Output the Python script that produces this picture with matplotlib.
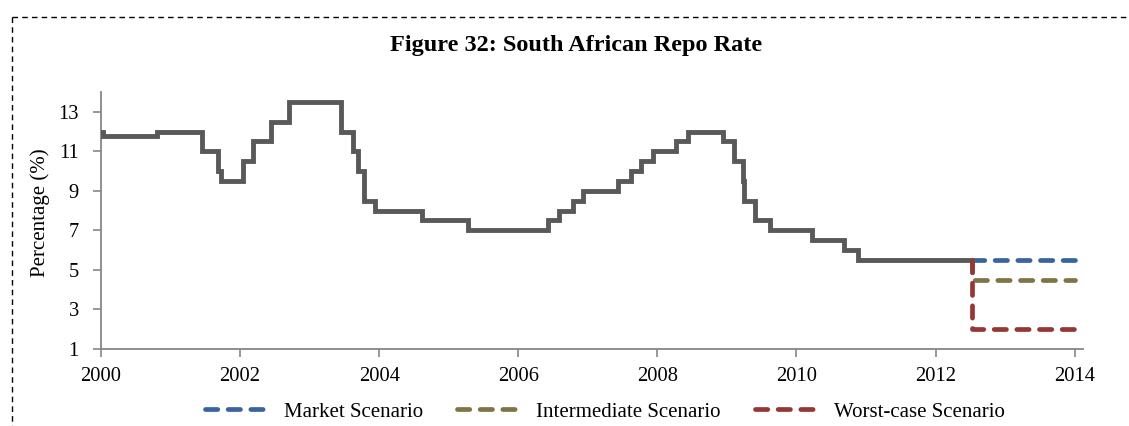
import matplotlib
matplotlib.use("Agg")
import matplotlib.pyplot as plt
from matplotlib.lines import Line2D

# ---- data ----
dates = [2000.0, 2000.03, 2000.80, 2001.45, 2001.68, 2001.72, 2002.04, 2002.19,
         2002.44, 2002.70, 2003.45, 2003.62, 2003.69, 2003.78, 2003.94, 2004.61,
         2005.28, 2006.43, 2006.58, 2006.78, 2006.93, 2007.43, 2007.62, 2007.77,
         2007.93, 2008.27, 2008.44, 2008.95, 2009.10, 2009.23, 2009.25, 2009.40,
         2009.62, 2010.23, 2010.69, 2010.88, 2012.53]
rates = [12.0, 11.75, 12.0, 11.0, 10.0, 9.5, 10.5, 11.5,
         12.5, 13.5, 12.0, 11.0, 10.0, 8.5, 8.0, 7.5,
         7.0, 7.5, 8.0, 8.5, 9.0, 9.5, 10.0, 10.5,
         11.0, 11.5, 12.0, 11.5, 10.5, 9.5, 8.5, 7.5,
         7.0, 6.5, 6.0, 5.5, 5.5]

scen_x = [2012.53, 2012.53, 2014.0]
market = [5.5, 5.5, 5.5]
intermediate = [5.5, 4.5, 4.5]
worst = [5.5, 2.0, 2.0]
scen_labels = ["Market Scenario", "Intermediate Scenario", "Worst-case Scenario"]
scen_colors = ["#3A64A0", "#7E7446", "#953735"]

x_ticks = [2000, 2002, 2004, 2006, 2008, 2010, 2012, 2014]
y_ticks = [1, 3, 5, 7, 9, 11, 13]

plt.rcParams['font.family'] = ['Liberation Serif', 'DejaVu Serif']

W, H = 1129, 426
fig = plt.figure(figsize=(W / 100, H / 100), dpi=100)
ax = fig.add_axes([101 / W, 1 - 349 / H, (1083 - 101) / W, (349 - 92) / H])

ax.plot(dates, rates, drawstyle='steps-post', color='#595959', lw=3.5,
        solid_joinstyle='miter', zorder=3)

dash = (2.6, 2.2)
for ys, lab, c in zip([market, intermediate, worst], scen_labels, scen_colors):
    ax.plot(scen_x, ys, color=c, lw=3.4, dashes=dash, dash_capstyle='round',
            label=lab, zorder=4)

ax.set_xlim(2000, 2014.12)
ax.set_ylim(1, 14)
ax.set_xticks(x_ticks)
ax.set_yticks(y_ticks)
ax.tick_params(axis='both', labelsize=14.8, color='#868686', length=6, width=1.2)
ax.tick_params(axis='x', pad=7)
ax.tick_params(axis='y', pad=10)
for s in ['top', 'right']:
    ax.spines[s].set_visible(False)
for s in ['left', 'bottom']:
    ax.spines[s].set_color('#868686')
    ax.spines[s].set_linewidth(1.3)

ax.set_ylabel("Percentage (%)", fontsize=15)
ax.yaxis.set_label_coords(40 / W, 0.5, transform=fig.transFigure)
ax.yaxis.label.set_va('center')

fig.text(576 / W, 1 - 45 / H, "Figure 32: South African Repo Rate",
         ha='center', va='center', fontsize=17.5, fontweight='bold')

leg = fig.legend(loc='center', bbox_to_anchor=(605 / W, 1 - 412 / H), ncol=3,
                 frameon=False, fontsize=15, handlelength=3.2, columnspacing=1.65,
                 handletextpad=0.6)

# dashed border
fig.add_artist(Line2D([12 / W, 1.0], [1 - 17 / H, 1 - 17 / H], transform=fig.transFigure,
                      color='black', lw=1.0, dashes=(4, 3)))
fig.add_artist(Line2D([12 / W, 12 / W], [1 - 17 / H, 0.0], transform=fig.transFigure,
                      color='black', lw=1.0, dashes=(4, 3)))

fig.savefig("out.png", dpi=100)
